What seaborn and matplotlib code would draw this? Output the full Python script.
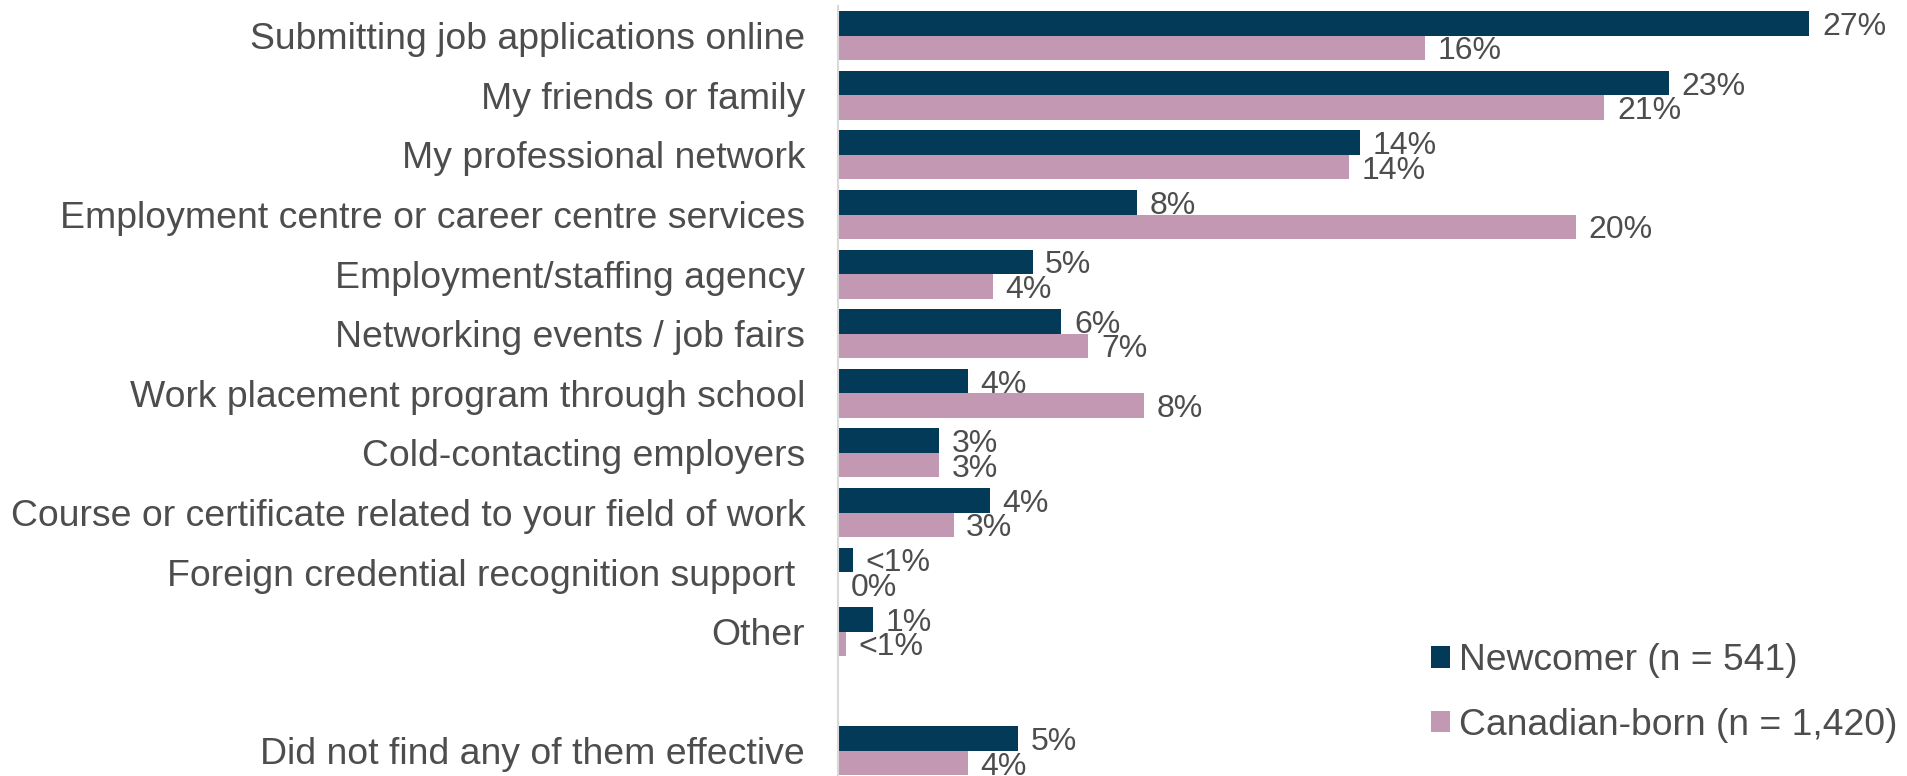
import matplotlib
matplotlib.use("Agg")
import matplotlib.pyplot as plt
from matplotlib.patches import Patch
import pandas as pd
import seaborn as sns

# Share of respondents who found each job-search method effective (%)
categories = [
    "Submitting job applications online",
    "My friends or family",
    "My professional network",
    "Employment centre or career centre services",
    "Employment/staffing agency",
    "Networking events / job fairs",
    "Work placement program through school",
    "Cold-contacting employers",
    "Course or certificate related to your field of work",
    "Foreign credential recognition support ",
    "Other",
    "Did not find any of them effective",
]
newcomer = [27.0, 23.1, 14.5, 8.3, 5.4, 6.2, 3.6, 2.8, 4.2, 0.4, 0.96, 5.0]
canadian_born = [16.3, 21.3, 14.2, 20.5, 4.3, 6.95, 8.5, 2.8, 3.2, 0.0, 0.2, 3.6]
groups = ["Newcomer (n = 541)", "Canadian-born (n = 1,420)"]
colors = ["#023A57", "#C298B2"]

# blank slot separating "Did not find..." from the rest
order = categories[:-1] + [""] + categories[-1:]

df = pd.DataFrame({
    "method": categories * 2,
    "share": newcomer + canadian_born,
    "group": [groups[0]] * len(categories) + [groups[1]] * len(categories),
})

sns.set_theme(style="white")
plt.rcParams["font.family"] = ["Liberation Sans", "DejaVu Sans"]
text_color = "#4D4D4D"

fig = plt.figure(figsize=(19.08, 7.76), dpi=100)
ax = fig.add_axes([838.5 / 1908, -4.7 / 776, 1 - 838.5 / 1908, 774.8 / 776])

sns.barplot(
    data=df, y="method", x="share", hue="group", order=order,
    hue_order=groups, palette=colors, width=0.82, orient="h",
    saturation=1, legend=False, ax=ax, linewidth=0,
)

ax.set_xlim(0, 29.74)
ax.set_ylim(12.5, -0.5)
ax.set_xlabel("")
ax.set_ylabel("")
ax.set_xticks([])
for side in ("top", "right", "bottom"):
    ax.spines[side].set_visible(False)
ax.spines["left"].set_color("#D9D9D9")
ax.spines["left"].set_linewidth(1.5)
ax.tick_params(axis="y", length=0, pad=24, labelsize=26.9, labelcolor=text_color)


def pct_label(v):
    r = round(v)
    if v > 0 and r < 1:
        return "<1%"
    return f"{r:.0f}%"


for container in ax.containers:
    for bar in container:
        w = bar.get_width()
        if w != w:  # NaN for the blank slot
            continue
        y = bar.get_y() + bar.get_height() / 2
        ax.annotate(pct_label(w), (w, y), xytext=(9, 0), textcoords="offset points",
                    ha="left", va="center_baseline", fontsize=23, color=text_color)

handles = [Patch(facecolor=c, edgecolor="none") for c in colors]
fig.legend(handles, groups, loc="center left", bbox_to_anchor=(1431 / 1908, 1 - 693 / 776),
           frameon=False, fontsize=26.8, labelcolor=text_color, handlelength=0.5,
           handleheight=0.5, handletextpad=0.25, labelspacing=0.79, borderpad=0,
           borderaxespad=0)

fig.savefig("out.png", dpi=100)
